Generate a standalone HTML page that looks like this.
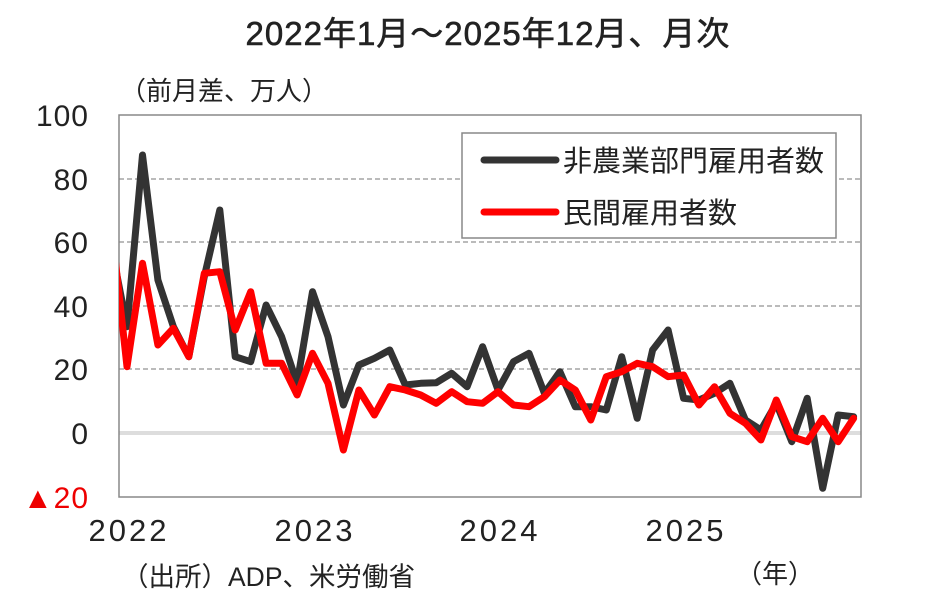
<!DOCTYPE html>
<html><head><meta charset="utf-8"><style>
body{margin:0;width:935px;height:608px;background:#fff;overflow:hidden}
text{font-family:"Liberation Sans","Noto Sans CJK JP",sans-serif;fill:#222}
</style></head><body>
<svg id="s" width="935" height="608" xmlns="http://www.w3.org/2000/svg">
<text x="488" y="45" font-size="33" text-anchor="middle" letter-spacing="1" stroke="#222" stroke-width="0.6">2022年1月～2025年12月、月次</text>
<text x="120" y="100" font-size="26">（前月差、万人）</text>
<g stroke="#777" stroke-dasharray="5,3" stroke-width="1">
<line x1="119" y1="179" x2="861" y2="179"/><line x1="119" y1="242" x2="861" y2="242"/>
<line x1="119" y1="306" x2="861" y2="306"/><line x1="119" y1="369" x2="861" y2="369"/>
</g>
<line x1="119" y1="433" x2="861" y2="433" stroke="#ddd" stroke-width="4"/>
<rect x="119" y="115" width="742" height="382" fill="none" stroke="#888" stroke-width="1.5"/>
<g font-size="30" text-anchor="end" letter-spacing="1">
<text x="89" y="126">100</text><text x="89" y="190">80</text><text x="89" y="253">60</text>
<text x="89" y="317">40</text><text x="89" y="380">20</text><text x="89" y="444">0</text>
<text x="89" y="508" style="fill:#e00">▲20</text></g>
<g font-size="31" text-anchor="middle" letter-spacing="3">
<text x="129" y="541">2022</text><text x="315" y="541">2023</text><text x="500" y="541">2024</text><text x="686" y="541">2025</text></g>
<text x="122" y="586" font-size="26.5">（出所）ADP、米労働省</text>
<text x="736" y="583" font-size="26">（年）</text>
<defs><clipPath id="c"><rect x="119" y="115" width="742" height="382"/></clipPath></defs>
<g clip-path="url(#c)" fill="none" stroke-width="7" stroke-linejoin="round" stroke-linecap="round">
<polyline id="b" stroke="#333"/><polyline id="r" stroke="#f00"/></g>
<rect x="462" y="133" width="374" height="105" fill="#fff" stroke="#888" stroke-width="1.5"/>
<line x1="484" y1="160" x2="556" y2="160" stroke="#333" stroke-width="7" stroke-linecap="round"/>
<line x1="484" y1="212" x2="556" y2="212" stroke="#f00" stroke-width="7" stroke-linecap="round"/>
<text x="563" y="171" font-size="29">非農業部門雇用者数</text>
<text x="563" y="223" font-size="29">民間雇用者数</text>
</svg>
<script>
var b1=[650,135,510,650,740,500,300,740,755,585,680,820,545,680,885,765,745,720,825,820,818,790,830,710];
var r1=[770,460,705,655,740,490,485,660,545,760,760,855,730,820,1020,840,915,830,840,855,880,845,875,880];
var b2=[300,215,190,310,245,350,350,360,200,385,180,120,325,330,310,280,390,420,340,455,325,595,375,380];
var r2=[305,345,350,320,270,300,390,260,245,220,230,260,255,345,290,370,400,450,330,440,455,385,455,385];
function pts(a,c,first){var p=first?[[112,first]]:[];a.forEach(function(v,i){p.push([127+15.46*i,v/3+110])});c.forEach(function(v,i){p.push([127+15.46*(i+24),v/3+290])});return p.map(function(q){return q[0].toFixed(1)+","+q[1].toFixed(1)}).join(" ")}
document.getElementById("b").setAttribute("points",pts(b1,b2,250));
document.getElementById("r").setAttribute("points",pts(r1,r2,230));
</script>
</body></html>
